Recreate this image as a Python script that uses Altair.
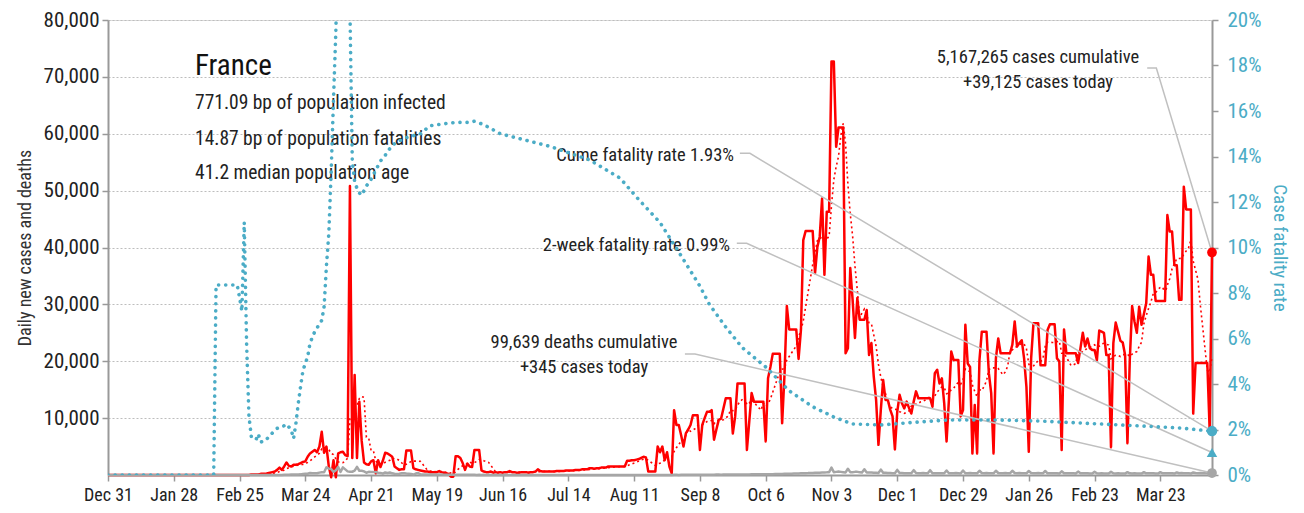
import altair as alt
import pandas as pd

START = pd.Timestamp("2019-12-31")

# Daily new cases, thousands, one value per day from 2019-12-31 to 2021-04-14
CASES_K = [
    0, 0, 0, 0, 0, 0, 0, 0, 0, 0, 0, 0, 0, 0,
    0, 0, 0, 0, 0, 0, 0, 0, 0, 0, 0, 0, 0, 0,
    0, 0, 0, 0, 0, 0, 0, 0, 0, 0, 0, 0, 0, 0,
    0, 0, 0, 0, 0, 0, 0, 0, 0, 0, 0, 0, 0, 0,
    0, 0, 0, 0, 0, 0.1, 0.1, 0.1, 0.1, 0.2, 0.2, 0.2, 0.3, 0.4,
    0.5, 0.6, 0.9, 1.3, 0.9, 1.5, 2.2, 1.6, 1.5, 1.8,
    1.8, 1.9, 2.1, 2.3, 2.4, 3.2, 3.8, 4.1, 4.4, 4.0,
    5.0, 7.6, 3.9, 5.0, 1.5, -0.4, 2.6, -0.4, 3.8, 4.0,
    4.1, 3.5, 3.3, 50.8, 3.0, 17.6, 3.0, 12.9, 6.0, 2.2,
    1.9, 1.8, 2.4, 2.6, 0.3, 2.6, 1.4, 2.5, 3.9, 3.8,
    3.5, 3.2, 1.5, 1.2, 0.9, 1.0, 1.0, 4.3, 4.3, 4.3,
    1.2, 1.0, 0.9, 0.8, 0.7, 0.6, 0.6, 0.5, 0.5, 0.5,
    0.5, 0.7, 0.5, 0.4, 0.3, 0.2, -0.3, -0.3, 3.3, 3.3,
    3.0, 2.1, 0.9, 2.0, 1.5, 1.4, 4.4, 4.4, 4.4, 0.8,
    0.6, 0.5, 0.5, 0.6, 0.4, 0.5, 0.4, 0.5, 0.4, 0.5,
    0.5, 0.7, 0.5, 0.5, 0.4, 0.4, 0.5, 0.5, 0.5, 0.4,
    0.5, 0.5, 0.6, 1.0, 0.7, 0.6, 0.6, 0.6, 0.6, 0.6,
    0.6, 0.7, 0.7, 0.7, 0.7, 0.8, 0.8, 0.8, 0.8, 0.9,
    0.9, 0.9, 1.0, 1.0, 1.0, 1.2, 1.2, 1.1, 1.2, 1.2,
    1.3, 1.3, 1.3, 1.5, 1.5, 1.5, 1.5, 1.5, 1.5, 1.5,
    1.5, 2.5, 2.5, 2.6, 2.6, 2.7, 2.8, 3.0, 3.2, 3.1,
    0.6, 0.6, 0.6, 0.6, 5.0, 4.0, 5.0, 2.6, 4.0, 1.5,
    0.3, 11.4, 8.8, 8.8, 7.0, 5.0, 7.3, 8.0, 8.8, 10.5,
    10.5, 10.5, 4.4, 8.8, 10.0, 11.1, 11.1, 11.4, 6.2, 8.0,
    9.7, 9.9, 11.7, 13.5, 13.5, 13.5, 7.3, 10.3, 16.1, 16.1,
    16.1, 16.1, 4.4, 9.4, 14.4, 12.9, 12.9, 12.9, 12.9, 12.9,
    5.9, 17.0, 19.0, 21.3, 21.3, 21.3, 21.3, 9.1, 17.6, 29.7,
    25.6, 25.6, 25.6, 25.6, 20.4, 25.5, 41.3, 42.9, 42.9, 42.9,
    42.9, 35.5, 40.1, 41.9, 48.6, 35.2, 46.3, 46.3, 72.7, 72.7,
    57.7, 61.1, 61.1, 61.1, 21.4, 22.3, 36.4, 30.8, 24.1, 31.1,
    27.3, 27.3, 27.3, 29.0, 21.1, 23.2, 17.3, 13.2, 5.3, 11.4,
    16.7, 13.2, 13.2, 11.5, 10.3, 4.5, 11.1, 14.1, 12.6, 11.7,
    12.9, 11.8, 10.8, 12.9, 14.7, 13.5, 13.5, 13.5, 13.5, 13.5,
    13.5, 12.0, 17.9, 18.5, 16.1, 17.0, 12.6, 5.9, 13.2, 21.7,
    20.2, 20.2, 20.2, 10.3, 11.4, 26.4, 19.6, 19.0, 3.8, 12.3,
    3.8, 20.2, 25.2, 25.2, 25.2, 17.9, 14.4, 3.8, 20.5, 24.0,
    21.4, 21.4, 21.4, 21.4, 21.4, 22.9, 27.0, 22.6, 23.2, 23.7,
    20.5, 15.5, 4.1, 20.5, 26.7, 26.7, 26.7, 19.3, 19.3, 19.3,
    25.5, 26.5, 26.5, 26.5, 20.5, 20.0, 4.4, 25.6, 21.4, 21.4,
    21.4, 21.4, 21.4, 19.7, 22.3, 25.0, 22.6, 24.0, 22.3, 22.0,
    22.0, 20.2, 25.4, 25.2, 25.0, 21.1, 21.1, 4.9, 23.2, 26.8,
    25.2, 23.6, 23.3, 21.1, 5.6, 20.2, 29.7, 27.0, 25.0, 29.6,
    26.4, 28.3, 30.2, 38.4, 35.2, 35.2, 30.6, 30.6, 30.6, 30.6,
    30.6, 45.7, 42.8, 42.8, 36.9, 36.9, 30.8, 30.8, 50.7, 46.7,
    46.7, 46.7, 10.8, 19.7, 19.7, 19.7, 19.7, 19.7, 19.7, 7.9,
    39.125,
]

# Daily deaths, thousands, same days
DEATHS_K = [
    0, 0, 0, 0, 0, 0, 0, 0, 0, 0, 0, 0, 0, 0, 0, 0,
    0, 0, 0, 0, 0, 0, 0, 0, 0, 0, 0, 0, 0, 0, 0, 0,
    0, 0, 0, 0, 0, 0, 0, 0, 0, 0, 0, 0, 0, 0, 0, 0,
    0, 0, 0, 0, 0, 0, 0, 0, 0, 0, 0, 0, 0, 0, 0, 0,
    0, 0, 0, 0, 0.01, 0.01, 0.01, 0.01, 0.02, 0.02, 0.02, 0.04,
    0.05, 0.03, 0.07, 0.10, 0.10, 0.10, 0.11, 0.19, 0.24, 0.23,
    0.37, 0.30, 0.32, 0.30, 0.42, 0.50, 0.47, 1.36, 1.12, 1.05,
    0.52, 0.83, 1.42, 0.54, 1.34, 0.99, 0.64, 0.56, 0.57, 0.76,
    1.44, 0.75, 0.76, 0.64, 0.40, 0.55, 0.53, 0.54, 0.52, 0.39,
    0.37, 0.24, 0.44, 0.37, 0.43, 0.29, 0.22, 0.17, 0.22, 0.30,
    0.33, 0.27, 0.24, 0.18, 0.08, 0.26, 0.35, 0.10, 0.10, 0.10,
    0.08, 0.10, 0.10, 0.06, 0.10, 0.08, 0.07, 0.06, 0.05, 0.05,
    0.05, 0.04, 0.05, 0.05, 0.04, 0.03, 0.03, 0.03, 0.03, 0.03,
    0.03, 0.02, 0.03, 0.02, 0.03, 0.02, 0.03, 0.02, 0.02, 0.03,
    0.02, 0.02, 0.02, 0.03, 0.02, 0.02, 0.01, 0.02, 0.02, 0.02,
    0.02, 0.01, 0.01, 0.02, 0.02, 0.01, 0.01, 0.02, 0.01, 0.01,
    0.01, 0.01, 0.02, 0.01, 0.01, 0.01, 0.01, 0.01, 0.02, 0.01,
    0.01, 0.01, 0.01, 0.01, 0.01, 0.01, 0.01, 0.01, 0.01, 0.01,
    0.01, 0.01, 0.01, 0.01, 0.01, 0.01, 0.01, 0.01, 0.01, 0.01,
    0.01, 0.01, 0.01, 0.01, 0.01, 0.01, 0.01, 0.01, 0.01, 0.02,
    0.01, 0.01, 0.02, 0.02, 0.01, 0.01, 0.02, 0.02, 0.02, 0.02,
    0.02, 0.02, 0.02, 0.02, 0.02, 0.03, 0.03, 0.02, 0.03, 0.03,
    0.03, 0.03, 0.04, 0.04, 0.03, 0.04, 0.05, 0.05, 0.05, 0.05,
    0.05, 0.06, 0.06, 0.07, 0.07, 0.06, 0.08, 0.08, 0.08, 0.07,
    0.08, 0.09, 0.09, 0.09, 0.10, 0.10, 0.10, 0.10, 0.11, 0.11,
    0.11, 0.12, 0.12, 0.12, 0.13, 0.14, 0.14, 0.15, 0.16, 0.17,
    0.18, 0.19, 0.20, 0.21, 0.22, 0.24, 0.25, 0.26, 0.28, 0.29,
    0.30, 0.32, 0.33, 0.35, 0.36, 0.38, 0.40, 0.41, 0.43, 0.45, 0.47, 0.50,
    1.30, 0.50, 0.55, 0.60, 0.55, 0.50, 0.45,
    1.10, 0.50, 0.50, 0.55, 0.55, 0.50, 0.45,
    1.00, 0.45, 0.45, 0.45, 0.40, 0.40, 0.35,
    0.95, 0.40, 0.40, 0.35, 0.35, 0.30, 0.30,
    0.90, 0.35, 0.35, 0.30, 0.30, 0.30, 0.30,
    0.85, 0.35, 0.30, 0.30, 0.35, 0.30, 0.30,
    0.85, 0.30, 0.30, 0.30, 0.30, 0.30, 0.30,
    0.80, 0.30, 0.30, 0.30, 0.35, 0.30, 0.25,
    0.80, 0.30, 0.30, 0.35, 0.30, 0.30, 0.30,
    0.75, 0.35, 0.30, 0.35, 0.30, 0.30, 0.30,
    0.75, 0.35, 0.30, 0.30, 0.35, 0.30, 0.30,
    0.75, 0.35, 0.30, 0.35, 0.30, 0.30, 0.30,
    0.70, 0.35, 0.30, 0.30, 0.35, 0.30, 0.30,
    0.70, 0.30, 0.30, 0.30, 0.30, 0.30, 0.25,
    0.65, 0.30, 0.30, 0.30, 0.30, 0.30, 0.25,
    0.60, 0.30, 0.30, 0.30, 0.30, 0.25, 0.25,
    0.55, 0.30, 0.25, 0.30, 0.25, 0.25, 0.25,
    0.55, 0.30, 0.25, 0.30, 0.25, 0.25, 0.25,
    0.50, 0.30, 0.25, 0.30, 0.25, 0.25, 0.25,
    0.50, 0.30, 0.30, 0.30, 0.30, 0.25, 0.25,
    0.50, 0.30, 0.30, 0.30, 0.30, 0.30, 0.25,
    0.45, 0.30, 0.35, 0.30, 0.30, 0.30, 0.25,
    0.45, 0.35, 0.30, 0.35, 0.30, 0.30, 0.30,
    0.45, 0.345,
]

# Cumulative case fatality rate (%), key days (offset from 2019-12-31)
CFR_DAY = [0, 45, 46, 55, 56, 57, 58, 59, 60, 61, 62, 63, 64, 65, 67, 69, 72, 74, 76, 78,
           79, 80, 81, 82, 83, 85, 86, 88, 91, 92, 93, 94, 95, 96, 97, 98, 102, 103, 104,
           105, 106, 107, 108, 109, 110, 112, 114, 116, 118, 121, 126, 133, 137, 144, 148,
           154, 156, 160, 167, 188, 205, 218, 226, 235, 243, 252, 256, 263, 270, 280, 290,
           300, 309, 317, 329, 345, 358, 378, 397, 431, 456, 465, 470]
CFR_PCT = [0, 0, 8.35, 8.35, 7.8, 7.2, 11.1, 5.8, 2.6, 1.7, 1.6, 1.55, 1.8, 1.45, 1.5, 1.75,
           2.05, 2.1, 2.24, 1.98, 1.6, 2.27, 3.15, 3.9, 4.6, 5.2, 5.8, 6.3, 6.8, 7.4, 9.2,
           10.6, 13.3, 16.5, 19.5, 24.0, 24.0, 20.5, 13.8, 12.9, 12.6, 12.4, 12.3, 12.5,
           12.7, 13.0, 13.4, 13.8, 14.05, 14.5, 14.8, 15.0, 15.35, 15.45, 15.5, 15.5, 15.55,
           15.4, 15.0, 14.45, 13.85, 13.05, 12.1, 11.1, 9.8, 8.3, 7.5, 6.5, 5.6, 4.75, 3.7,
           3.0, 2.55, 2.24, 2.2, 2.33, 2.42, 2.42, 2.37, 2.2, 2.07, 1.98, 1.93]

TODAY_CASES = 39125
TODAY_DEATHS = 345
CUME_CFR = 1.93
TWO_WEEK_CFR = 0.99
LAST_DAY = 470

INFO_TITLE = "France"
INFO_LINES = ["771.09 bp of population infected",
              "14.87 bp of population fatalities",
              "41.2 median population age"]
CASES_NOTE = ["5,167,265 cases cumulative", "+39,125 cases today"]
DEATHS_NOTE = ["99,639 deaths cumulative", "+345 cases today"]
CUME_NOTE = "Cume fatality rate 1.93%"
TWO_WEEK_NOTE = "2-week fatality rate 0.99%"

assert len(CASES_K) == LAST_DAY + 1, len(CASES_K)
assert len(DEATHS_K) == LAST_DAY + 1, len(DEATHS_K)
assert len(CFR_DAY) == len(CFR_PCT)

FONT = "Liberation Sans Narrow, Arial Narrow, Roboto Condensed, DejaVu Sans Condensed, sans-serif"
RED = "#ff0000"
CYAN = "#4bacc6"
GRAY = "#a6a6a6"
LEAD = "#c0c0c0"
TXT = "#222222"
PCT_TO_CASES = 80000 / 20


def ts(d):
    return (START + pd.Timedelta(days=d)).strftime("%Y-%m-%dT%H:%M:%S")


daily = pd.DataFrame({
    "date": [ts(i) for i in range(LAST_DAY + 1)],
    "cases": [c * 1000 for c in CASES_K],
    "deaths": [d * 1000 for d in DEATHS_K],
})
cfr = pd.DataFrame({"date": [ts(d) for d in CFR_DAY], "cfr": CFR_PCT})

tick_dates = pd.date_range(START, periods=17, freq="28D")
tick_vals = [alt.DateTime(year=int(d.year), month=int(d.month), date=int(d.day)) for d in tick_dates]
x_scale = alt.Scale(domain=[alt.DateTime(year=2019, month=12, date=31),
                            alt.DateTime(year=2021, month=4, date=14)])

x_axis = alt.Axis(values=tick_vals, format="%b %-d", labelFontSize=18, labelColor=TXT,
                  labelFont=FONT, domainColor="#999999", domainWidth=2, tickColor="#999999",
                  tickWidth=1.5, tickSize=6, grid=False, title=None, labelPadding=5,
                  labelOverlap=False, labelFlush=False)
X = alt.X("date:T", scale=x_scale, axis=x_axis)

yl_scale = alt.Scale(domain=[0, 80000], nice=False, zero=True)
yl_axis = alt.Axis(values=list(range(10000, 80001, 10000)), format=",.0f", labelFontSize=21,
                   labelColor=TXT, labelFont=FONT, domainColor="#999999", domainWidth=2,
                   tickColor="#999999", tickWidth=1.5, tickSize=6, grid=True,
                   gridColor="#bdbdbd", gridDash=[2, 2], gridWidth=1,
                   title="Daily new cases and deaths", titleFont=FONT, titleFontSize=18,
                   titleFontWeight="normal", titleColor="#333333", titlePadding=9,
                   labelPadding=3)


def YL(field):
    return alt.Y(field + ":Q", scale=yl_scale, axis=yl_axis)


yr_scale = alt.Scale(domain=[0, 20], nice=False)
yr_axis = alt.Axis(orient="right", values=list(range(0, 21, 2)), labelExpr="datum.value + '%'",
                   labelFontSize=21, labelColor=CYAN, labelFont=FONT, domainColor="#999999",
                   domainWidth=2, tickColor="#999999", tickWidth=1.5, tickSize=6, grid=False,
                   title="Case fatality rate", titleFont=FONT, titleFontSize=19,
                   titleFontWeight="normal", titleColor=CYAN, titlePadding=8, labelPadding=9)


def YR(field):
    return alt.Y(field + ":Q", scale=yr_scale, axis=yr_axis)


base = alt.Chart(daily)
cases_line = base.mark_line(color=RED, strokeWidth=2.5, strokeJoin="round").encode(x=X, y=YL("cases"))
avg_line = base.transform_window(
    avg="mean(cases)", frame=[-6, 0], sort=[alt.SortField("date")]
).mark_line(color=RED, strokeWidth=1.6, strokeDash=[2, 3]).encode(x=X, y=YL("avg"))
deaths_line = base.mark_line(color=GRAY, strokeWidth=2.5, strokeJoin="round").encode(x=X, y=YL("deaths"))

# leader lines (left-scale units)
leaders = pd.DataFrame([
    ("cases", ts(442.4), 71560, 0), ("cases", ts(446.3), 71560, 1), ("cases", ts(LAST_DAY), TODAY_CASES, 2),
    ("cume", ts(269.0), 56560, 0), ("cume", ts(273.3), 56560, 1), ("cume", ts(LAST_DAY), CUME_CFR * PCT_TO_CASES, 2),
    ("two", ts(267.7), 40740, 0), ("two", ts(271.9), 40740, 1), ("two", ts(LAST_DAY), TWO_WEEK_CFR * PCT_TO_CASES, 2),
    ("deaths", ts(245.6), 21270, 0), ("deaths", ts(249.9), 21270, 1), ("deaths", ts(LAST_DAY), TODAY_DEATHS, 2),
], columns=["g", "date", "v", "o"])
leader_lines = alt.Chart(leaders).mark_line(color=LEAD, strokeWidth=1.5).encode(
    x=X, y=YL("v"), detail="g:N", order="o:Q")

end_pts = pd.DataFrame({"date": [ts(LAST_DAY), ts(LAST_DAY)], "v": [TODAY_CASES, TODAY_DEATHS],
                        "kind": ["cases", "deaths"]})
end_marks = alt.Chart(end_pts).mark_point(filled=True, size=95, opacity=1).encode(
    x=X, y=YL("v"),
    color=alt.Color("kind:N", scale=alt.Scale(domain=["cases", "deaths"], range=[RED, GRAY]), legend=None))

one = pd.DataFrame({"a": [0]})


def label(text, x, y, size=18.5, align="left", baseline="middle", color=TXT):
    return alt.Chart(one).mark_text(text=text, font=FONT, fontSize=size, align=align,
                                    baseline=baseline, color=color).encode(
        x=alt.value(x), y=alt.value(y))


texts = [
    label(INFO_TITLE, 87, 55, size=29, baseline="alphabetic", color="#111111"),
    label(INFO_LINES[0], 87, 83, size=19.5),
    label(INFO_LINES[1], 87, 119, size=19.5),
    label(INFO_LINES[2], 87, 153, size=19.5),
    label(CASES_NOTE[0], 930, 37, align="center"),
    label(CASES_NOTE[1], 930, 62, align="center"),
    label(CUME_NOTE, 626, 135, align="right"),
    label(TWO_WEEK_NOTE, 622, 225, align="right"),
    label(DEATHS_NOTE[0], 476, 322, align="center"),
    label(DEATHS_NOTE[1], 476, 347, align="center"),
]

cfr_line = alt.Chart(cfr).mark_line(color=CYAN, strokeWidth=3.6, strokeDash=[0.1, 7],
                                    strokeCap="round", clip=True).encode(x=X, y=YR("cfr"))
cfr_pts = pd.DataFrame({"date": [ts(LAST_DAY), ts(LAST_DAY)], "p": [CUME_CFR, TWO_WEEK_CFR],
                        "kind": ["cume", "two"]})
cfr_marks = alt.Chart(cfr_pts).mark_point(filled=True, size=110, opacity=1, color=CYAN).encode(
    x=X, y=YR("p"),
    shape=alt.Shape("kind:N", scale=alt.Scale(domain=["cume", "two"], range=["circle", "triangle-up"]),
                    legend=None))

left = alt.layer(cases_line, avg_line, deaths_line, leader_lines, end_marks, *texts)
right = alt.layer(cfr_line, cfr_marks)

chart = alt.layer(left, right).resolve_scale(y="independent").properties(
    width=1104, height=455,
    padding={"left": 100, "top": 12, "right": 84, "bottom": 30},
    autosize=alt.AutoSizeParams(type="none"),
).configure_view(stroke=None).configure(background="white")

chart.save("out.html", embed_options={"renderer": "svg", "actions": False})
